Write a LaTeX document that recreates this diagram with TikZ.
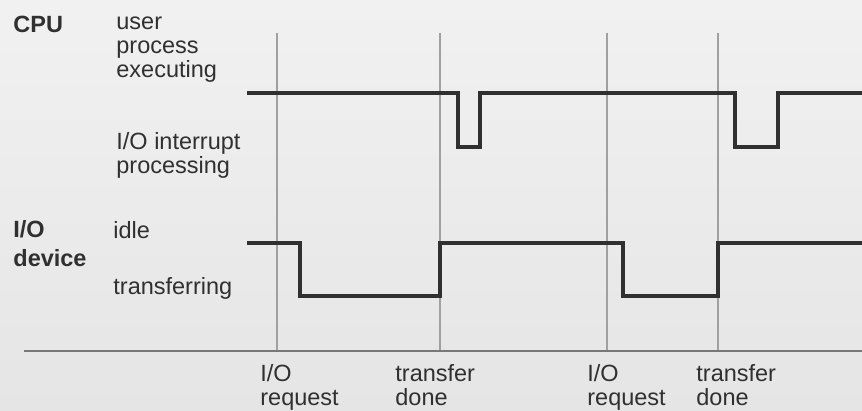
\documentclass[tikz,border=0pt]{standalone}
\usepackage{fontspec}
\setmainfont{Liberation Sans}
\usetikzlibrary{positioning}
\tikzset{>=stealth}
\definecolor{ink}{RGB}{48,48,48}
\definecolor{gridgray}{RGB}{160,160,160}
\definecolor{axisgray}{RGB}{120,120,120}
\tikzset{
  wave/.style={draw=ink, line width=2pt},
  tick/.style={draw=gridgray, line width=0.7pt},
  axisline/.style={draw=axisgray, line width=1pt},
  lbl/.style={anchor=base west, inner sep=0pt, align=left, text=ink,
    font=\fontsize{11.75}{12}\selectfont},
  head/.style={lbl, font=\fontsize{11.75}{14.5}\selectfont\bfseries},
}

\begin{document}
\begin{tikzpicture}[x=0.5pt,y=-0.5pt]
  \shade[top color={rgb,255:red,241;green,241;blue,241},
         bottom color={rgb,255:red,229;green,229;blue,229}] (0,0) rectangle (862,411);
  \useasboundingbox (0,0) rectangle (862,411);
  % time marks
  \foreach \name/\x in {req1/277, done1/440, req2/607, done2/718}{
    \coordinate (\name-t) at (\x,33);
    \coordinate (\name) at (\x,351);
    \draw[tick] (\name-t) -- (\name);
  }
  \coordinate (axisL) at (24,351);
  \coordinate (axisR) at (862,351);
  \draw[axisline] (axisL) -- (axisR);
  % CPU
  \draw[wave] (247,93) -| (458,147) -| (480,93) -| (735,147) -| (778,93) -- (862,93);
  % I/O device
  \draw[wave] (247,243) -| (300,296) -| (440,243) -| (623,296) -| (718,243) -- (862,243);
  % labels on the left (base = last line)
  \node[head] (cpu) at (13,33) {CPU};
  \node[lbl] (user) at (116,78) {user\\process\\executing};
  \node[lbl] (intr) at (116,174) {I/O interrupt\\processing};
  \node[head] (dev) at (13,267) {I/O\\device};
  \node[lbl] (idle) at (113,239) {idle};
  \node[lbl] (xfer) at (113,294) {transferring};
  % labels under the axis
  \node[lbl] (req1-l) at (260,405) {I/O\\request};
  \node[lbl] (done1-l) at (395,405) {transfer\\done};
  \node[lbl] (req2-l) at (587,405) {I/O\\request};
  \node[lbl] (done2-l) at (696,405) {transfer\\done};
\end{tikzpicture}
\end{document}
